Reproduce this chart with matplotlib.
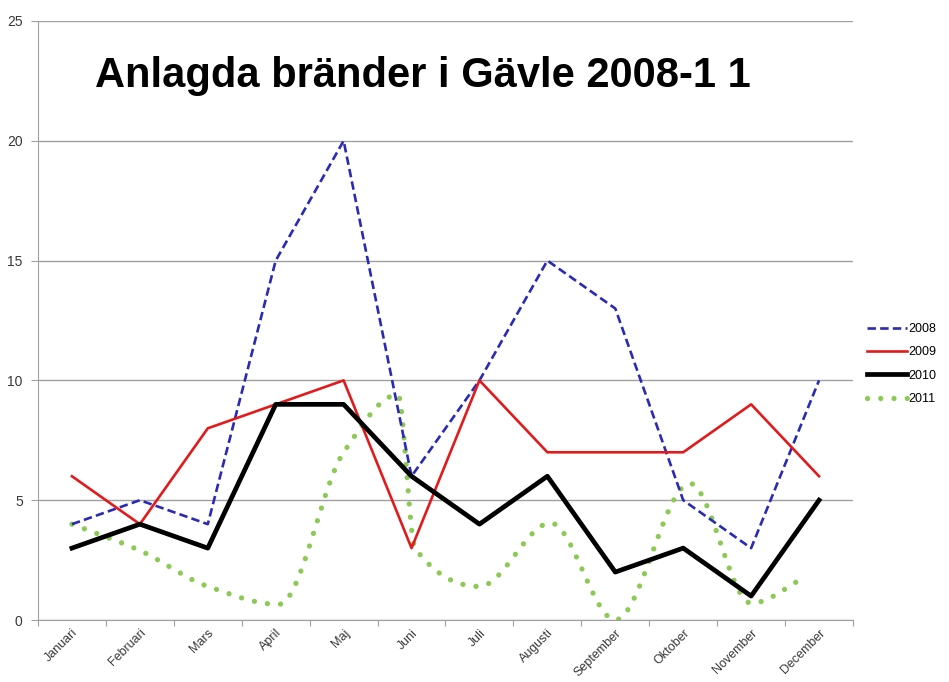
import numpy as np
import matplotlib.pyplot as plt

plt.rcParams['font.family'] = ['Liberation Sans', 'DejaVu Sans']

# data
months = ['Januari', 'Februari', 'Mars', 'April', 'Maj', 'Juni', 'Juli',
          'Augusti', 'September', 'Oktober', 'November', 'December']
y2008 = [4, 5, 4, 15, 20, 6, 10, 15, 13, 5, 3, 10]
y2009 = [6, 4, 8, 9, 10, 3, 10, 7, 7, 7, 9, 6]
y2010 = [3, 4, 3, 9, 9, 6, 4, 6, 2, 3, 1, 5]
# 2011 is drawn as a smoothed curve, not quite on the month positions
x2011 = [0, 1, 2, 3.05, 4, 4.8, 5.05, 6, 7.05, 8, 9.1, 10, 10.8]
y2011 = [4, 2.9, 1.4, 0.65, 7, 9.4, 3, 1.4, 4.05, 0, 5.7, 0.7, 1.8]
yticks = [0, 5, 10, 15, 20, 25]


def pchip(xs, ys, n=25):
    # monotone cubic (Fritsch-Carlson) so the smoothing does not overshoot
    xs = np.asarray(xs, float)
    ys = np.asarray(ys, float)
    h = np.diff(xs)
    delta = np.diff(ys) / h
    d = np.zeros_like(ys)
    for k in range(1, len(xs) - 1):
        if delta[k - 1] * delta[k] > 0:
            w1 = 2 * h[k] + h[k - 1]
            w2 = h[k] + 2 * h[k - 1]
            d[k] = (w1 + w2) / (w1 / delta[k - 1] + w2 / delta[k])
    d[0] = delta[0]
    d[-1] = delta[-1]
    px, py = [], []
    for k in range(len(h)):
        t = np.linspace(0, 1, n, endpoint=False)
        h00 = 2 * t ** 3 - 3 * t ** 2 + 1
        h10 = t ** 3 - 2 * t ** 2 + t
        h01 = -2 * t ** 3 + 3 * t ** 2
        h11 = t ** 3 - t ** 2
        px.append(xs[k] + t * h[k])
        py.append(h00 * ys[k] + h10 * h[k] * d[k] + h01 * ys[k + 1] + h11 * h[k] * d[k + 1])
    px.append([xs[-1]])
    py.append([ys[-1]])
    return np.concatenate(px), np.concatenate(py)


fig = plt.figure(figsize=(9.49, 6.82), dpi=100)
ax = fig.add_axes([38 / 949, 1 - 620 / 682, (853 - 38) / 949, (620 - 21) / 682])

x = np.arange(len(months))
ax.plot(x, y2008, color='#2A2AB5', lw=1.9, ls=(0, (3.2, 1.6)), label='2008', zorder=3)
ax.plot(x, y2009, color='#E31A1C', lw=1.9, label='2009', zorder=3)
ax.plot(x, y2010, color='black', lw=3.4, label='2010', zorder=4)
sx, sy = pchip(x2011, y2011)
ax.plot(sx, sy, color='#8DC955', lw=3.8, ls=(0, (0.01, 2.5)),
        dash_capstyle='round', label='2011', zorder=2)

ax.set_xlim(-0.5, 11.5)
ax.set_ylim(0, 25)
ax.set_yticks(yticks)
ax.yaxis.grid(True, color='#A0A0A0', lw=1.0)
ax.set_axisbelow(True)
for s in ['top', 'right']:
    ax.spines[s].set_visible(False)
for s in ['left', 'bottom']:
    ax.spines[s].set_color('#A0A0A0')
ax.tick_params(axis='y', length=5, color='#A0A0A0', labelsize=10,
               labelcolor='#383838', pad=6)

# category labels at centres, tick marks between categories
ax.set_xticks(np.arange(-0.5, 12, 1))
ax.set_xticklabels([])
ax.tick_params(axis='x', length=4, color='#A0A0A0')
ax.set_xticks(x, minor=True)
ax.set_xticklabels(months, minor=True, rotation=45, ha='right',
                   rotation_mode='anchor', fontsize=9, color='#383838')
ax.tick_params(axis='x', which='minor', length=0, pad=5)

fig.text(95 / 949, 1 - 87 / 682, 'Anlagda bränder i Gävle 2008-1 1',
         fontsize=30, fontweight='bold', va='baseline', ha='left')

fig.legend(loc='center left', bbox_to_anchor=(862 / 949, 1 - 364 / 682),
           frameon=False, fontsize=9, handlelength=3.2, handletextpad=0.1,
           labelspacing=0.9, borderaxespad=0)

fig.savefig('out.png', dpi=100)
